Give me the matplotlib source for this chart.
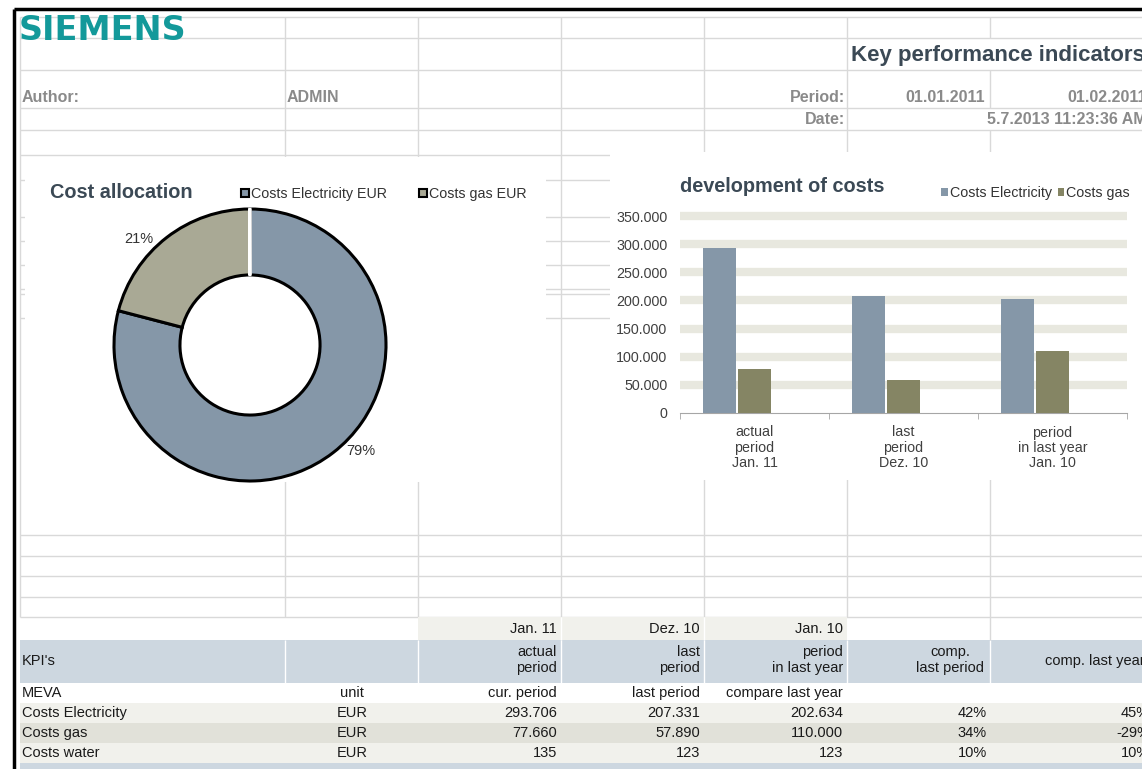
import numpy as np
import matplotlib
matplotlib.use("Agg")
import matplotlib.pyplot as plt
import matplotlib.patches as patches
from matplotlib.ticker import FuncFormatter

plt.rcParams['font.family'] = ['Liberation Sans', 'DejaVu Sans']

# ---- data read from the sheet ----
series = ["Costs Electricity", "Costs gas", "Costs water"]
categories = ["actual\nperiod\nJan. 11", "last\nperiod\nDez. 10", "period\nin last year\nJan. 10"]
period_labels = ["Jan. 11", "Dez. 10", "Jan. 10"]
header_labels = ["actual\nperiod", "last\nperiod", "period\nin last year"]
meva_labels = ["cur. period", "last period", "compare last year"]
units = ["EUR", "EUR", "EUR"]
actual_period = [293706, 77660, 135]
last_period = [207331, 57890, 123]
last_year = [202634, 110000, 123]
comp_last_period = [42, 34, 10]
comp_last_year = [45, -29, 10]

W, H = 1142, 769
GRID = '#d9d9d9'
TXT = '#1a1a1a'
TITLE = '#3b4955'
GREY = '#8a8a8a'
ELEC = '#8597a8'
GAS = '#858564'
PIE_GAS = '#a9a995'
BLUE_ROW = '#cdd7e0'
BEIGE = '#f1f1ec'
BEIGE_DARK = '#e1e1d9'


def de(v):
    return f"{int(v):,}".replace(",", ".")


fig = plt.figure(figsize=(W / 100, H / 100), dpi=100)
bg = fig.add_axes([0, 0, 1, 1])
bg.set_xlim(0, W)
bg.set_ylim(H, 0)
bg.axis('off')

# spreadsheet grid
cols = [285, 418, 561, 704, 847, 990]
rows = [17, 38, 70, 108, 130, 155, 180, 217, 241, 265, 289, 294, 318,
        535, 556, 576, 597, 617]
bg.hlines(rows, 20, W, color=GRID, lw=1, zorder=1)
bg.vlines(20, 17, 617, color=GRID, lw=1, zorder=1)
for x in cols:
    if x == 990:
        for y0, y1 in [(17, 38), (70, 108), (130, 617)]:
            bg.vlines(x, y0, y1, color=GRID, lw=1, zorder=1)
    else:
        bg.vlines(x, 17, 617, color=GRID, lw=1, zorder=1)

# outer border
bg.plot([14, W], [9, 9], color='black', lw=2.5, zorder=5, solid_capstyle='butt')
bg.plot([14, 14], [9, H], color='black', lw=2.5, zorder=5, solid_capstyle='butt')

# chart areas (white) over the grid
bg.add_patch(patches.Rectangle((25, 157), 521, 325, fc='white', ec='none', zorder=2))
bg.add_patch(patches.Rectangle((610, 152), 540, 328, fc='white', ec='none', zorder=2))

# header texts
bg.text(19, 30, "SIEMENS", fontsize=24, fontweight='bold', color='#13999a',
        family='DejaVu Sans', va='center', ha='left', zorder=4)
bg.text(851, 56, "Key performance indicators", fontsize=16, fontweight='bold',
        color=TITLE, va='center', ha='left', zorder=4)
hdr = dict(fontsize=11.5, fontweight='bold', color=GREY, va='center', zorder=4)
bg.text(22, 97, "Author:", ha='left', **hdr)
bg.text(287, 97, "ADMIN", ha='left', **hdr)
bg.text(845, 97, "Period:", ha='right', **hdr)
bg.text(985, 97, "01.01.2011", ha='right', **hdr)
bg.text(1147, 97, "01.02.2011", ha='right', **hdr)
bg.text(845, 119, "Date:", ha='right', **hdr)
bg.text(1147, 119, "5.7.2013 11:23:36 AM", ha='right', **hdr)

# ---- donut chart ----
pie_ax = fig.add_axes([80 / W, 1 - 515 / H, 340 / W, 340 / H])
wedges, _, autotexts = pie_ax.pie(
    actual_period, colors=[ELEC, PIE_GAS, 'white'], startangle=90, counterclock=False,
    radius=1, autopct=lambda p: f"{p:.0f}%" if p >= 1 else "", pctdistance=1.13,
    wedgeprops=dict(width=0.485, edgecolor='black', linewidth=2.2),
    textprops=dict(fontsize=10.5, color='#333333'))
wedges[2].set_edgecolor('white')
# excel "best fit" places the labels a little further round the ring
for w, t in zip(wedges, autotexts):
    ang = np.deg2rad((w.theta1 + w.theta2) / 2 + 8.5)
    t.set_position((1.13 * np.cos(ang), 1.13 * np.sin(ang)))
pie_ax.set_xlim(-1.25, 1.25)
pie_ax.set_ylim(-1.25, 1.25)

bg.text(50, 193, "Cost allocation", fontsize=14.3, fontweight='bold', color=TITLE,
        va='center', ha='left', zorder=4)
pie_handles = [patches.Patch(facecolor=ELEC, edgecolor='black', lw=1.5),
               patches.Patch(facecolor=PIE_GAS, edgecolor='black', lw=1.5)]
leg1 = bg.legend(pie_handles, [s + " EUR" for s in series[:2]], loc='center left',
                 bbox_to_anchor=(241 / W, 1 - 194 / H), ncol=2, frameon=False,
                 fontsize=10.3, handlelength=0.55, handleheight=0.55, handletextpad=0.12,
                 columnspacing=2.3, borderpad=0, borderaxespad=0, labelcolor='#333333')
bg.add_artist(leg1)

# ---- bar chart ----
ax = fig.add_axes([680 / W, 1 - 413 / H, 447 / W, 197 / H])
x = np.arange(len(categories))
bw = 0.226
step = 0.234
values = [[actual_period[i], last_period[i], last_year[i]] for i in range(3)]
colors = [ELEC, GAS, '#a0b0c0']
bars = []
for i in range(3):
    b = ax.bar(x + (i - 1) * step, values[i], bw, color=colors[i], zorder=3)
    bars.append(b)

ax.set_xlim(-0.5, 2.5)
ax.set_ylim(0, 350000)
ax.set_yticks(np.arange(0, 350001, 50000))
ax.yaxis.set_major_formatter(FuncFormatter(lambda v, p: de(v)))
ax.yaxis.grid(True, color='#e8e8df', lw=6)
ax.set_axisbelow(True)
gls = ax.yaxis.get_gridlines()
gls[0].set_visible(False)
for gl in gls:
    gl.set_clip_on(False)
    gl.set_solid_capstyle('butt')
for s in ['left', 'top', 'right']:
    ax.spines[s].set_visible(False)
ax.spines['bottom'].set_color('#a6a6a6')
ax.tick_params(axis='y', length=0, pad=9, labelsize=10.3, labelcolor='#404040')
ax.set_xticks(x, categories)
ax.set_xticks([-0.5, 0.5, 1.5, 2.5], minor=True)
ax.tick_params(axis='x', which='major', length=0, pad=9, labelsize=10.3, labelcolor='#404040')
ax.tick_params(axis='x', which='minor', length=4, color='#a6a6a6')
for t in ax.get_xticklabels():
    t.set_linespacing(1.1)

bg.text(680, 187, "development of costs", fontsize=14.3, fontweight='bold', color=TITLE,
        va='center', ha='left', zorder=4)
bg.legend([bars[0], bars[1]], series[:2], loc='center right',
          bbox_to_anchor=(1130 / W, 1 - 193 / H), ncol=2, frameon=False, fontsize=10.3,
          handlelength=0.45, handleheight=0.45, handletextpad=0.15, columnspacing=0.4,
          borderpad=0, borderaxespad=0, labelcolor='#333333')

# ---- KPI table ----
def fill(x0, y0, x1, y1, c):
    bg.add_patch(patches.Rectangle((x0, y0), x1 - x0, y1 - y0, fc=c, ec='none', zorder=1.5))


fill(418, 617, 847, 640, BEIGE)
fill(20, 640, W, 683, BLUE_ROW)
fill(20, 703, W, 723, BEIGE)
fill(20, 723, W, 743, BEIGE_DARK)
fill(20, 743, W, 763, BEIGE)
fill(20, 763, W, H, BLUE_ROW)
bg.vlines([561, 704], 617, 640, color='white', lw=1, zorder=1.6)
bg.vlines(cols, 640, 683, color='white', lw=1, zorder=1.6)
bg.vlines(990, 617, 640, color=GRID, lw=1, zorder=1.6)

cell = dict(fontsize=10.5, color=TXT, va='center', zorder=4)
right_edges = [557, 700, 843]
for j in range(3):
    bg.text(right_edges[j], 629, period_labels[j], ha='right', **cell)
    bg.text(right_edges[j], 660, header_labels[j], ha='right', multialignment='right',
            linespacing=1.2, **cell)
    bg.text(right_edges[j], 693, meva_labels[j], ha='right', **cell)
bg.text(22, 661, "KPI's", ha='left', **cell)
bg.text(950, 660, "comp.\nlast period", ha='center', multialignment='center',
        linespacing=1.2, **cell)
bg.text(1095, 661, "comp. last year", ha='center', **cell)
bg.text(22, 693, "MEVA", ha='left', **cell)
bg.text(352, 693, "unit", ha='center', **cell)

row_y = [713, 733, 753]
for i in range(3):
    y = row_y[i]
    bg.text(22, y, series[i], ha='left', **cell)
    bg.text(352, y, units[i], ha='center', **cell)
    bg.text(557, y, de(actual_period[i]), ha='right', **cell)
    bg.text(700, y, de(last_period[i]), ha='right', **cell)
    bg.text(843, y, de(last_year[i]), ha='right', **cell)
    bg.text(987, y, f"{comp_last_period[i]}%", ha='right', **cell)
    bg.text(1150, y, f"{comp_last_year[i]}%", ha='right', **cell)

fig.savefig("out.png", dpi=100)
